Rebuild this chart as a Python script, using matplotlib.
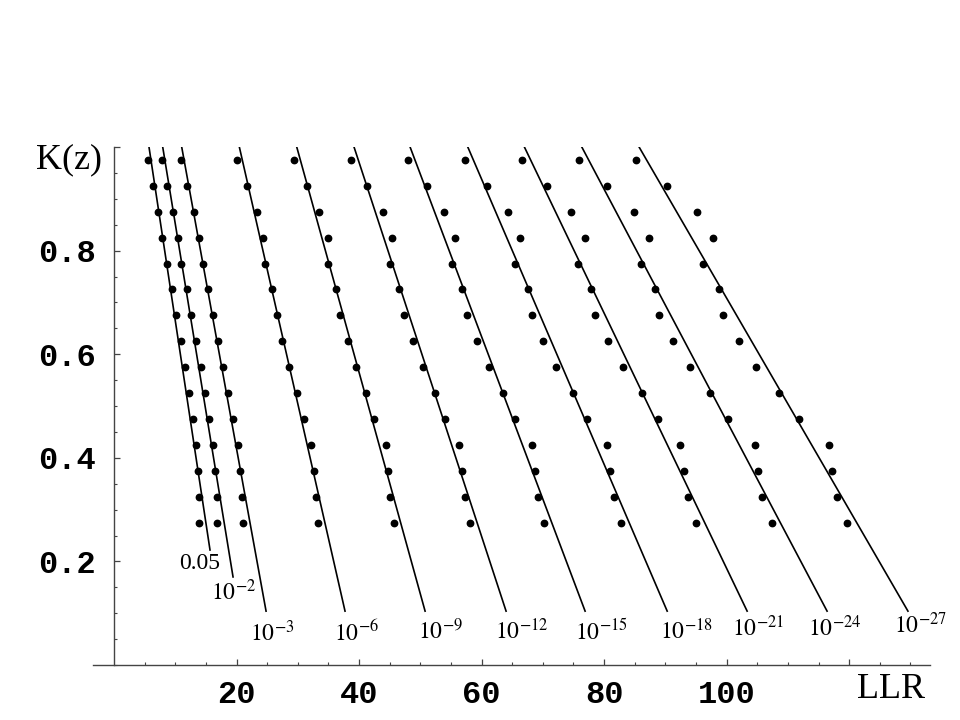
import numpy as np
import matplotlib
matplotlib.use('Agg')
import matplotlib.pyplot as plt
from matplotlib.ticker import MultipleLocator, FixedLocator

plt.rcParams['mathtext.fontset'] = 'stix'

# K(z) levels where the simulated points sit
k_pts = [0.975, 0.925, 0.875, 0.825, 0.775, 0.725, 0.675, 0.625,
         0.575, 0.525, 0.475, 0.425, 0.375, 0.325, 0.275]

# curve labels (false-alarm probabilities)
labels = ['0.05', r'$10^{-2}$', r'$10^{-3}$', r'$10^{-6}$', r'$10^{-9}$', r'$10^{-12}$',
          r'$10^{-15}$', r'$10^{-18}$', r'$10^{-21}$', r'$10^{-24}$', r'$10^{-27}$']

# simulated LLR thresholds, one list per curve (top to bottom in K)
llr_pts = [
    [5.60, 6.32, 7.13, 7.89, 8.60, 9.42, 10.12, 10.89, 11.59, 12.24, 12.90, 13.44, 13.67, 13.88, 13.93],
    [7.79, 8.65, 9.58, 10.40, 10.99, 11.87, 12.57, 13.39, 14.16, 14.86, 15.56, 16.21, 16.54, 16.77, 16.87],
    [10.94, 11.92, 13.01, 13.88, 14.48, 15.30, 16.11, 16.93, 17.75, 18.66, 19.43, 20.29, 20.57, 20.85, 21.01],
    [20.13, 21.71, 23.30, 24.33, 24.65, 25.80, 26.56, 27.48, 28.62, 29.88, 31.02, 32.21, 32.65, 32.98, 33.36],
    [29.44, 31.51, 33.52, 34.89, 34.94, 36.24, 36.90, 38.16, 39.51, 41.14, 42.50, 44.36, 44.77, 45.13, 45.71],
    [38.74, 41.31, 43.84, 45.39, 45.09, 46.53, 47.35, 48.82, 50.45, 52.36, 54.09, 56.38, 56.82, 57.31, 58.07],
    [47.95, 51.05, 53.93, 55.67, 55.13, 56.82, 57.58, 59.27, 61.18, 63.46, 65.42, 68.29, 68.69, 69.22, 70.16],
    [57.31, 60.90, 64.38, 66.33, 65.52, 67.54, 68.20, 70.09, 72.21, 74.89, 77.18, 80.49, 80.98, 81.58, 82.73],
    [66.61, 70.69, 74.61, 76.82, 75.76, 77.88, 78.53, 80.70, 83.15, 86.15, 88.73, 92.41, 93.01, 93.71, 95.07],
    [75.87, 80.49, 84.90, 87.30, 85.99, 88.33, 89.03, 91.31, 94.04, 97.31, 100.29, 104.60, 105.09, 105.84, 107.43],
    [85.18, 90.29, 95.18, 97.80, 96.21, 98.73, 99.38, 101.99, 104.87, 108.62, 111.79, 116.69, 117.22, 117.99, 119.72],
]

# theoretical lines: LLR at K=1 and at the lower end
line_top = [5.71, 7.95, 11.05, 20.46, 29.83, 39.18, 48.33, 57.75, 66.99, 76.36, 85.71]
line_bot = [15.67, 19.43, 24.82, 37.71, 50.78, 64.0, 76.9, 90.3, 103.35, 116.4, 129.6]
line_kbot = [0.222, 0.170, 0.104, 0.104, 0.104, 0.104, 0.104, 0.104, 0.104, 0.104, 0.104]

# label offsets from line end (pixels)
lab_off = [(-10, -13), (1, -15), (6, -22), (11, -22), (15, -20), (16, -20),
           (16, -20), (19, -20), (11, -17), (8, -17), (13, -14)]

fig = plt.figure(figsize=(9.6, 7.2), dpi=100)
ax = fig.add_axes([93/960, 55/720, 837/960, 518/720])

for i in range(len(labels)):
    ax.plot([line_top[i], line_bot[i]], [1.0, line_kbot[i]], color='black', lw=1.2)
    ax.plot(llr_pts[i], k_pts, 'o', color='black', ms=4.6, mec='black')
    ax.annotate(labels[i], xy=(line_bot[i], line_kbot[i]), xytext=lab_off[i],
                textcoords='offset pixels', ha='center', va='center',
                fontsize=17, family='Liberation Serif')

ax.set_xlim(-3.43, 133.2)
ax.set_ylim(0, 1.0)
ax.spines['left'].set_position(('data', 0))
ax.spines['top'].set_visible(False)
ax.spines['right'].set_visible(False)
for s in ['left', 'bottom']:
    ax.spines[s].set_color('#444444')
    ax.spines[s].set_linewidth(1.0)

ax.xaxis.set_major_locator(FixedLocator([20, 40, 60, 80, 100, 120]))
ax.set_xticklabels(['20', '40', '60', '80', '100', ''])
ax.xaxis.set_minor_locator(FixedLocator(np.arange(5, 131, 5)))
ax.yaxis.set_major_locator(FixedLocator([0.2, 0.4, 0.6, 0.8, 1.0]))
ax.set_yticklabels(['0.2', '0.4', '0.6', '0.8', ''])
ax.yaxis.set_minor_locator(MultipleLocator(0.05))

ax.tick_params(which='both', direction='in', color='#444444')
ax.tick_params(which='major', length=4.5, width=0.9)
ax.tick_params(which='minor', length=2.5, width=0.8)
ax.tick_params(axis='y', pad=13)
ax.tick_params(axis='x', pad=11)
for t in ax.get_xticklabels() + ax.get_yticklabels():
    t.set_family('Liberation Mono')
    t.set_fontweight('bold')
    t.set_fontsize(23)

fig.text(69/960, 1 - 160/720, 'K(z)', ha='center', va='center',
         fontsize=26, family='Liberation Serif')
fig.text(891/960, 1 - 690/720, 'LLR', ha='center', va='center',
         fontsize=26, family='Liberation Serif')

fig.savefig('out.png', dpi=100)
